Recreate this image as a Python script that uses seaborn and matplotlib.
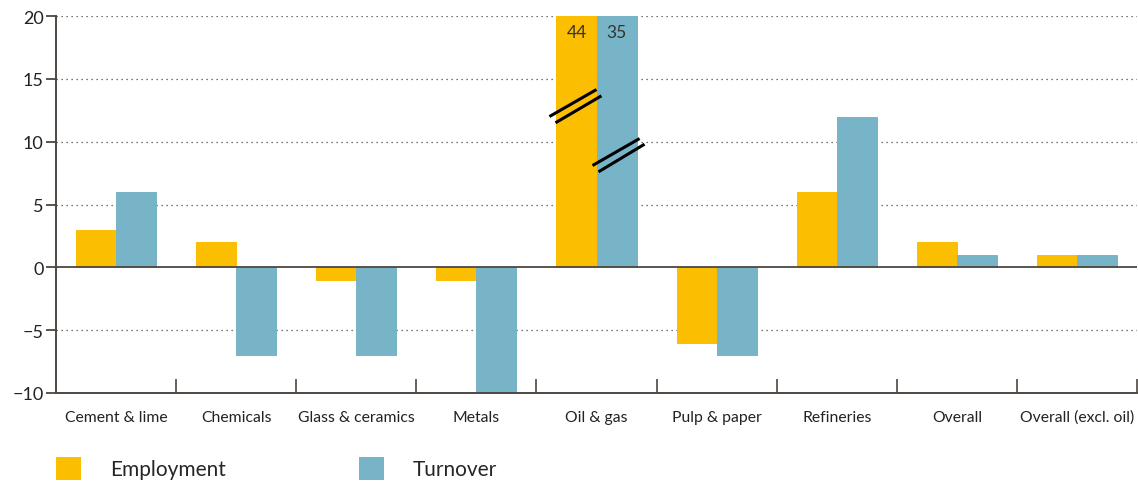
import matplotlib
matplotlib.use("Agg")
import matplotlib.pyplot as plt
import seaborn as sns
import pandas as pd
import numpy as np
from matplotlib.patches import Patch

categories = ["Cement & lime", "Chemicals", "Glass & ceramics", "Metals", "Oil & gas",
              "Pulp & paper", "Refineries", "Overall", "Overall (excl. oil)"]
employment = [3, 2, -1, -1, 44, -6, 6, 2, 1]
turnover = [6, -7, -7, -10, 35, -7, 12, 1, 1]
series = ["Employment", "Turnover"]
colors = ["#FBBE00", "#77B4C7"]
yticks = [-10, -5, 0, 5, 10, 15, 20]

sns.set_theme(style="white")
plt.rcParams['font.family'] = ['Lato', 'DejaVu Sans']

df = pd.DataFrame({
    "category": categories * 2,
    "value": employment + turnover,
    "series": [series[0]] * len(categories) + [series[1]] * len(categories),
})

fig = plt.figure(figsize=(11.38, 4.85), dpi=100)
ax = fig.add_axes([56 / 1138, 1 - 394 / 485, 1081 / 1138, 377 / 485])

sns.barplot(data=df, x="category", y="value", hue="series", order=categories,
            hue_order=series, palette=colors, width=0.667, gap=0,
            saturation=1, ax=ax, legend=False, errorbar=None)
for p in ax.patches:
    p.set_edgecolor(p.get_facecolor())
    p.set_linewidth(0.7)

ax.set_ylim(-10, 20)
ax.set_xlim(-0.5, len(categories) - 0.5)
ax.set_yticks(yticks)
ax.set_xlabel("")
ax.set_ylabel("")

spine_col = "#4d4740"
for s in ["top", "right"]:
    ax.spines[s].set_visible(False)
for s in ["left", "bottom"]:
    ax.spines[s].set_color(spine_col)
    ax.spines[s].set_linewidth(1.4)

for y in yticks:
    if y in (-10, 0):
        continue
    ax.axhline(y, color="#4d4740", lw=0.9, ls=(0, (1, 3)), zorder=0)
ax.axhline(0, color=spine_col, lw=1.3, zorder=3)

ax.tick_params(axis="y", direction="out", length=7, width=1.3, color=spine_col,
               labelsize=13, labelcolor="#222222", pad=2, left=True)
ax.tick_params(axis="x", which="major", length=0, labelsize=11.3, labelcolor="#222222", pad=12)
ax.set_xticks(np.arange(len(categories)) + 0.5, minor=True)
ax.tick_params(axis="x", which="minor", direction="in", length=10, width=1.2,
               color=spine_col, bottom=True)

# values above axis limit for oil & gas
oi = categories.index("Oil & gas")
bw = 0.667 / 2
ax.text(oi - bw / 2, 18.75, str(employment[oi]), ha="center", va="center",
        fontsize=12.5, color="#333333", zorder=5)
ax.text(oi + bw / 2, 18.75, str(turnover[oi]), ha="center", va="center",
        fontsize=12.5, color="#333333", zorder=5)

# break marks (offsets relative to bar centre, in category units / data units)
def brk(xc, segs):
    for (x0, y0, x1, y1) in segs:
        ax.plot([xc + x0, xc + x1], [y0, y1], color="black", lw=2.2,
                solid_capstyle="butt", zorder=6, clip_on=False)

brk(oi - bw / 2, [(-0.225, 12.0, 0.167, 14.15), (-0.175, 11.5, 0.208, 13.65)])
brk(oi + bw / 2, [(-0.2, 8.1, 0.192, 10.25), (-0.15, 7.6, 0.233, 9.8)])

handles = [Patch(facecolor=c, edgecolor="none", label=l) for c, l in zip(colors, series)]
fig.legend(handles=handles, loc="lower left", bbox_to_anchor=(52 / 1138, 0.0),
           ncol=2, frameon=False, fontsize=15, handlelength=1.2, handleheight=1.3,
           handletextpad=1.4, columnspacing=6.35, borderpad=0.2, borderaxespad=0)

fig.savefig("out.png", dpi=100)
